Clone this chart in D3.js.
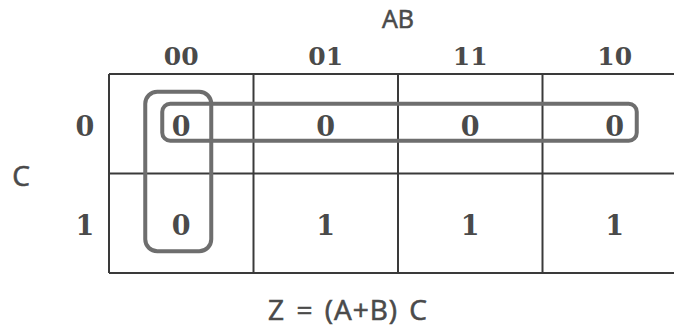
<!DOCTYPE html>
<html>
<head>
<meta charset="utf-8">
<script src="https://cdn.jsdelivr.net/npm/d3@7"></script>
<style>
  html, body { margin: 0; padding: 0; background: #fff; }
  svg { display: block; }
</style>
</head>
<body>
<svg id="kmap"></svg>
<script>
// column variables AB (gray code order), row variable C
const colLabels = ["00", "01", "11", "10"];
const rowLabels = ["0", "1"];

// output values, one list per row of C
const row0 = [0, 0, 0, 0];
const row1 = [0, 1, 1, 1];
const values = [row0, row1];

// groupings of zeros: [firstCol, lastCol, firstRow, lastRow]
const groups = [
    [0, 0, 0, 1],
    [0, 3, 0, 0]
];
// inset of each loop around its cells (l, r, t, b), from the centres of its end cells
const groupPad = [
    {l: 36, r: 30, t: 32, b: 28, rx: 12},
    {l: 19, r: 22, t: 20, b: 17, rx: 8}
];

const colTitle = "AB";
const rowTitle = "C";
const formula = "Z = (A+B) C";

const width = 674, height = 329;
const margin = ({top: 74, right: -13, bottom: 56, left: 109});

const svg = d3.select("#kmap")
    .attr("width", width)
    .attr("height", height);

const x = d3.scaleBand()
    .domain(colLabels)
    .range([margin.left, width - margin.right]);

const y = d3.scaleBand()
    .domain(rowLabels)
    .range([margin.top, height - margin.bottom]);

const ink = "#4a4a4a";
const digitFont = "'DejaVu Serif', serif";
const letterFont = "'Open Sans', sans-serif";

// grid
const grid = svg.append("g")
    .attr("fill", "none")
    .attr("stroke", "#3a3a3a")
    .attr("stroke-width", 2);

grid.selectAll("line.v")
    .data(colLabels)
    .join("line")
    .attr("class", "v")
    .attr("x1", d => x(d))
    .attr("x2", d => x(d))
    .attr("y1", y.range()[0])
    .attr("y2", y.range()[1]);

grid.selectAll("line.h")
    .data(rowLabels.concat([null]))
    .join("line")
    .attr("class", "h")
    .attr("x1", x.range()[0])
    .attr("x2", x.range()[1])
    .attr("y1", d => d === null ? y.range()[1] : y(d))
    .attr("y2", d => d === null ? y.range()[1] : y(d));

// column header digits
svg.append("g")
    .attr("font-family", digitFont)
    .attr("font-weight", "bold")
    .attr("font-size", 25)
    .attr("fill", ink)
    .attr("text-anchor", "middle")
    .selectAll("text")
    .data(colLabels)
    .join("text")
    .attr("x", d => x(d) + x.bandwidth() / 2)
    .attr("y", margin.top - 9)
    .text(d => d);

// row header digits
svg.append("g")
    .attr("font-family", digitFont)
    .attr("font-weight", "bold")
    .attr("font-size", 27)
    .attr("fill", ink)
    .attr("text-anchor", "middle")
    .selectAll("text")
    .data(rowLabels)
    .join("text")
    .attr("x", margin.left - 24)
    .attr("y", d => y(d) + y.bandwidth() / 2 + 12)
    .text(d => d);

// cell values
svg.append("g")
    .attr("font-family", digitFont)
    .attr("font-weight", "bold")
    .attr("font-size", 27)
    .attr("fill", ink)
    .attr("text-anchor", "middle")
    .selectAll("text")
    .data(values.flatMap((row, r) => row.map((v, c) => ({r, c, v}))))
    .join("text")
    .attr("x", d => x(colLabels[d.c]) + x.bandwidth() / 2)
    .attr("y", d => y(rowLabels[d.r]) + y.bandwidth() / 2 + 12)
    .text(d => d.v);

// grouping loops
const cx = i => x(colLabels[i]) + x.bandwidth() / 2;
const cy = i => y(rowLabels[i]) + y.bandwidth() / 2;

svg.append("g")
    .attr("fill", "none")
    .attr("stroke", "#6e6e6e")
    .attr("stroke-width", 4)
    .selectAll("rect")
    .data(groups)
    .join("rect")
    .attr("x", (d, i) => cx(d[0]) - groupPad[i].l)
    .attr("y", (d, i) => cy(d[2]) - groupPad[i].t)
    .attr("width", (d, i) => cx(d[1]) - cx(d[0]) + groupPad[i].l + groupPad[i].r)
    .attr("height", (d, i) => cy(d[3]) - cy(d[2]) + groupPad[i].t + groupPad[i].b)
    .attr("rx", (d, i) => groupPad[i].rx);

// titles
const letters = svg.append("g")
    .attr("font-family", letterFont)
    .attr("fill", ink)
    .attr("stroke", ink)
    .attr("stroke-width", 0.6)
    .attr("text-anchor", "middle");

letters.append("text")
    .attr("x", (x.range()[0] + x.range()[1]) / 2)
    .attr("y", 28)
    .attr("font-size", 25)
    .text(colTitle);

letters.append("text")
    .attr("x", 21)
    .attr("y", (y.range()[0] + y.range()[1]) / 2 + 12)
    .attr("font-size", 28)
    .text(rowTitle);

letters.append("text")
    .attr("x", 348)
    .attr("y", 320)
    .attr("font-size", 28)
    .attr("word-spacing", 3)
    .attr("letter-spacing", 1)
    .text(formula);
</script>
</body>
</html>
